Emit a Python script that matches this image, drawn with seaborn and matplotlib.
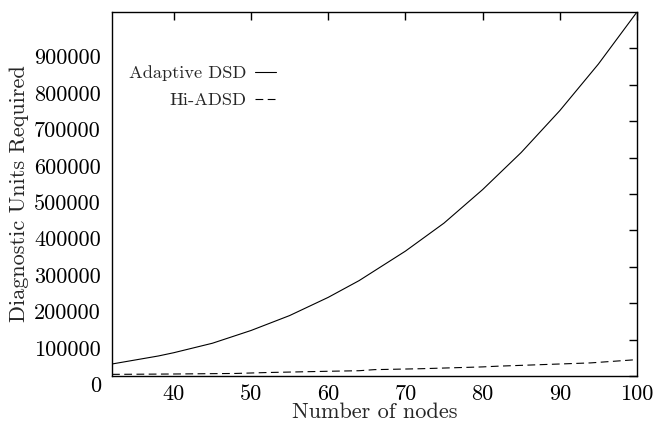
import numpy as np
import pandas as pd
import matplotlib
matplotlib.use("Agg")
import matplotlib.pyplot as plt
import matplotlib.transforms as mtransforms
import seaborn as sns

# values
adsd_nodes = [32, 38, 40, 45, 50, 55, 60, 64, 70, 75, 80, 85, 90, 95, 100]
adsd_units = [33000, 55000, 64000, 90000, 125000, 166000, 216000, 262000,
              343000, 420000, 512000, 614000, 729000, 857000, 1000000]

hi_nodes = [32, 40, 48, 52, 60, 64, 66, 72, 80, 82, 90, 94, 100]
hi_units = [4500, 5500, 7000, 9500, 13000, 14500, 17500, 20000, 25000,
            27000, 33000, 36000, 45000]

x_ticks = [40, 50, 60, 70, 80, 90, 100]
y_ticks = [0, 100000, 200000, 300000, 400000, 500000, 600000, 700000, 800000, 900000]

df = pd.concat([
    pd.DataFrame({"nodes": adsd_nodes, "units": adsd_units, "algo": "Adaptive DSD"}),
    pd.DataFrame({"nodes": hi_nodes, "units": hi_units, "algo": "Hi-ADSD"}),
])

sns.set_style("white")
plt.rcParams["font.family"] = ["cmr10", "DejaVu Serif"]
plt.rcParams["axes.formatter.use_mathtext"] = True

fig = plt.figure(figsize=(6.54, 4.22), dpi=100)
ax = fig.add_axes([0.1713, 0.109, 0.8027, 0.8626])

sns.lineplot(data=df, x="nodes", y="units", hue="algo", style="algo",
             palette=["black", "black"],
             dashes={"Adaptive DSD": "", "Hi-ADSD": (7, 4)},
             linewidth=0.8, ax=ax)

ax.set_xlim(32, 100)
ax.set_ylim(0, 1000000)
ax.set_xticks(x_ticks)
ax.set_yticks(y_ticks)
ax.set_xticklabels([str(t) for t in x_ticks])
ax.set_yticklabels([str(t) for t in y_ticks])
ax.tick_params(direction="in", length=6, width=1, top=True, right=True,
               labelsize=16, colors="black")
ax.tick_params(axis="x", pad=6)
ax.tick_params(axis="y", pad=8)
# gnuplot puts the y labels a bit below their ticks
shift = mtransforms.ScaledTranslation(0, -6 / 72, fig.dpi_scale_trans)
for lab in ax.get_yticklabels():
    lab.set_transform(lab.get_transform() + shift)
for s in ax.spines.values():
    s.set_color("black")
    s.set_linewidth(1)

ax.set_xlabel("Number of nodes", fontsize=16)
ax.xaxis.set_label_coords(0.5, -0.072)
ax.set_ylabel("Diagnostic Units Required", fontsize=16, labelpad=4)

leg = ax.legend(loc="upper left", bbox_to_anchor=(0.0, 0.898), frameon=False,
                markerfirst=False, fontsize=13.2, handlelength=1.15,
                handletextpad=0.5, labelspacing=0.6)
for t in leg.get_texts():
    t.set_ha("right")
leg._legend_box.align = "right"

fig.savefig("out.png", dpi=100)
